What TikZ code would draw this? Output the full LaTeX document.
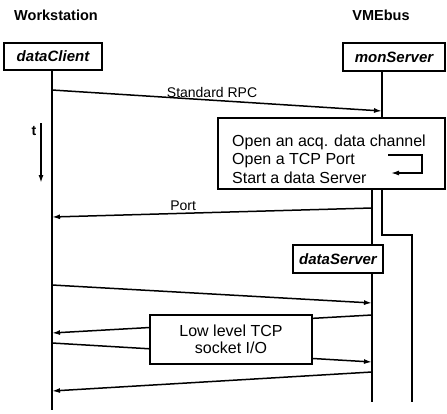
\documentclass[tikz,border=0pt]{standalone}
\usepackage{fontspec}
\setmainfont{Liberation Sans}
\usetikzlibrary{arrows.meta}
\begin{document}
\begin{tikzpicture}[x=1pt,y=-1pt,
  life/.style={line width=2.2pt},
  msg/.style={line width=1.5pt,-{Latex[length=8pt,width=5pt]}},
  obj/.style={draw,line width=1.8pt,fill=white,inner sep=0pt,
    font=\bfseries\itshape\fontsize{15}{18}\selectfont},
  hdr/.style={font=\bfseries\fontsize{14.5}{17}\selectfont},
  lbl/.style={font=\fontsize{14}{16}\selectfont,inner sep=2pt},
  notetext/.style={font=\fontsize{16}{18}\selectfont,inner sep=0pt,anchor=base west},
  boxframe/.style={draw,fill=white,inner sep=0pt},
]
\useasboundingbox (0,0) rectangle (447,413);

% column headings
\node[hdr] (ws)  at (56,15)  {Workstation};
\node[hdr] (vme) at (381,15) {VMEbus};

% objects
\node[obj,minimum width=98pt,minimum height=27pt]  (dc) at (53,56.5) {dataClient};
\node[obj,minimum width=102pt,minimum height=28pt] (ms) at (394,57)  {monServer};

% x positions of the lifelines
\coordinate (clx) at (52,0);
\coordinate (msx) at (382,0);
\coordinate (dsx) at (372,0);

% time arrow
\node[font=\bfseries\fontsize{14}{16}\selectfont,inner sep=0pt] (t) at (34,131) {t};
\coordinate (tt) at (41,123);
\coordinate (tb) at (41,183);
\draw[line width=1.6pt,-{Latex[length=8pt,width=5pt]}] (tt) -- (tb);

% client lifeline
\coordinate (clend) at (52,410);
\draw[life] (dc.south -| clx) -- (clend);

% monServer note box
\node[boxframe,line width=1.3pt,minimum width=227pt,minimum height=71pt] (note) at (331.5,153.5) {};
\draw[life] (ms.south -| msx) -- (note.north -| msx);

% request
\coordinate (rpcs) at (52,90);
\coordinate (rpce) at (382,111);
\draw[msg] (rpcs) -- node[lbl,above,pos=0.485] (rpcl) {Standard RPC} (rpce);

\node[notetext] (l1) at (232,146) {Open an acq. data channel};
\node[notetext] (l2) at (232,164.5) {Open a TCP Port};
\node[notetext] (l3) at (232,183) {Start a data Server};
\coordinate (bs) at (388,155);
\coordinate (bc) at (422,173);
\coordinate (be) at (391,173);
\draw[line width=1.4pt,-{Latex[length=8pt,width=5pt]}] (bs) -| (bc) -- (be);

% dataServer object
\node[obj,minimum width=90pt,minimum height=28pt] (ds) at (338,259) {dataServer};

% monServer continues on the right
\coordinate (k1) at (382,235);
\coordinate (k2) at (412,235);
\coordinate (msend) at (412,402);
\draw[life] (note.south -| msx) -- (k1) -- (k2) -- (msend);

% link from the note down to dataServer
\draw[life] (note.south -| dsx) -- (ds.north -| dsx);
\coordinate (dsend) at (372,402);
\draw[life] (ds.south -| dsx) -- (dsend);

% reply with the port
\coordinate (ports) at (372,208);
\coordinate (porte) at (52,217);
\draw[msg] (ports) -- node[lbl,above,pos=0.59] (portl) {Port} (porte);

% socket traffic
\coordinate (a1s) at (52,285);  \coordinate (a1e) at (372,303);
\coordinate (a2s) at (372,315); \coordinate (a2e) at (52,333);
\coordinate (a3s) at (52,343);  \coordinate (a3e) at (372,362);
\coordinate (a4s) at (372,372); \coordinate (a4e) at (52,391);
\draw[msg] (a1s) -- (a1e);
\draw[msg] (a2s) -- (a2e);
\draw[msg] (a3s) -- (a3e);
\draw[msg] (a4s) -- (a4e);

\node[boxframe,line width=1.6pt,minimum width=162pt,minimum height=49pt,
  align=center,font=\fontsize{16}{17}\selectfont] (io) at (231,339.5)
  {Low level TCP\\socket I/O};
\end{tikzpicture}
\end{document}
